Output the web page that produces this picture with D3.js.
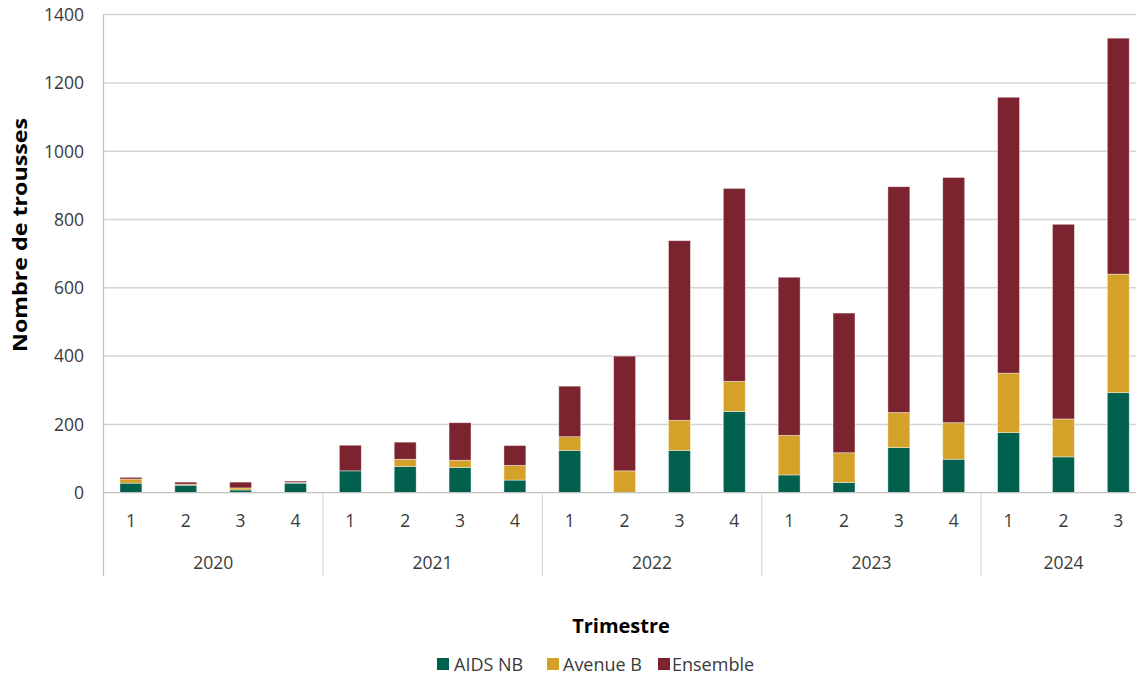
<!DOCTYPE html>
<html>
<head>
<meta charset="utf-8">
<script src="https://cdn.jsdelivr.net/npm/d3@7"></script>
<style>
  html, body { margin: 0; padding: 0; background: #fff; }
  svg { display: block; font-family: "Open Sans", "Liberation Sans", sans-serif; }
</style>
</head>
<body>
<svg id="chart" width="1136" height="675"></svg>
<script>
// Trousses distribuées par trimestre, 2020 T1 à 2024 T3
const years = ["2020", "2021", "2022", "2023", "2024"];
const quarterCounts = [4, 4, 4, 4, 3];
const quarterLabels = ["1","2","3","4", "1","2","3","4", "1","2","3","4", "1","2","3","4", "1","2","3"];
const aidsNB   = [28, 22, 8, 28,   64, 77, 74, 37,   124, 0, 124, 238,   52, 30, 132, 98,   176, 105, 293];
const avenueB  = [12, 3, 6, 2,     0, 21, 21, 43,    40, 64, 88, 88,     116, 87, 103, 107, 174, 111, 347];
const ensemble = [5, 6, 17, 4,     75, 50, 110, 58,  148, 336, 526, 565, 463, 409, 661, 718, 808, 570, 691];
const seriesNames = ["AIDS NB", "Avenue B", "Ensemble"];
const seriesColors = ["#02604f", "#d4a229", "#7b2430"];
const yTicks = [0, 200, 400, 600, 800, 1000, 1200, 1400];

const svg = d3.select("#chart");
const plotLeft = 103.5, plotRight = 1145.7, plotTop = 14.6, plotBottom = 492.7;
const axisBottom = 576;

// category keys: year-quarter
const keys = [];
years.forEach((yr, i) => { for (let q = 0; q < quarterCounts[i]; q++) keys.push(yr + "-" + (q + 1)); });

const rows = keys.map((k, i) => ({ key: k, "AIDS NB": aidsNB[i], "Avenue B": avenueB[i], "Ensemble": ensemble[i] }));
const stacked = d3.stack().keys(seriesNames)(rows);

const x = d3.scaleBand().domain(keys).range([plotLeft, plotRight]).paddingInner(0.6).paddingOuter(0.3);
const slot = d3.scaleBand().domain(keys).range([plotLeft, plotRight]).padding(0);
const y = d3.scaleLinear().domain([0, 1400]).range([plotBottom, plotTop]);

// horizontal gridlines
svg.append("g").selectAll("line").data(yTicks.filter(d => d > 0)).join("line")
  .attr("x1", plotLeft).attr("x2", 1136)
  .attr("y1", d => y(d)).attr("y2", d => y(d))
  .attr("stroke", "#d4d4d4").attr("stroke-width", 1.5);

// y tick labels
svg.append("g").selectAll("text").data(yTicks).join("text")
  .attr("x", 84).attr("y", d => y(d)).attr("dy", "0.36em")
  .attr("text-anchor", "end").attr("font-size", 17.5).attr("fill", "#3a3a3a")
  .text(d => d);

// stacked bars
svg.append("g").selectAll("g").data(stacked).join("g")
  .attr("fill", (d, i) => seriesColors[i])
  .selectAll("rect").data(d => d).join("rect")
  .attr("x", d => x(d.data.key))
  .attr("width", x.bandwidth())
  .attr("y", d => y(d[1]))
  .attr("height", d => y(d[0]) - y(d[1]))
  .attr("stroke", "rgba(255,255,255,0.5)").attr("stroke-width", 0.8);

// axis lines
const axisG = svg.append("g").attr("stroke", "#bfbfbf").attr("stroke-width", 1.2);
axisG.append("line").attr("x1", plotLeft).attr("x2", 1136).attr("y1", plotBottom).attr("y2", plotBottom);
axisG.append("line").attr("x1", plotLeft).attr("x2", plotLeft).attr("y1", plotTop).attr("y2", axisBottom);

// year group bounds and separators
let start = 0;
const groupBounds = years.map((yr, i) => {
  const a = slot(keys[start]);
  const lastKey = keys[start + quarterCounts[i] - 1];
  const b = slot(lastKey) + slot.bandwidth();
  start += quarterCounts[i];
  return { yr, a, b };
});
axisG.selectAll("line.sep").data(groupBounds.slice(0, -1)).join("line")
  .attr("class", "sep")
  .attr("x1", d => d.b).attr("x2", d => d.b)
  .attr("y1", plotBottom).attr("y2", axisBottom)
  .attr("stroke", "#d9d9d9");

// quarter labels
svg.append("g").selectAll("text").data(keys).join("text")
  .attr("x", d => slot(d) + slot.bandwidth() / 2)
  .attr("y", 527)
  .attr("text-anchor", "middle").attr("font-size", 17.5).attr("fill", "#3a3a3a")
  .text((d, i) => quarterLabels[i]);

// year labels
svg.append("g").selectAll("text").data(groupBounds).join("text")
  .attr("x", d => (d.a + d.b) / 2)
  .attr("y", 569)
  .attr("text-anchor", "middle").attr("font-size", 17.5).attr("fill", "#3a3a3a")
  .text(d => d.yr);

// axis titles
svg.append("text")
  .attr("transform", "translate(27,235) rotate(-90)")
  .attr("text-anchor", "middle").attr("font-size", 20).attr("font-weight", "bold")
  .attr("fill", "#000")
  .attr("textLength", 234).attr("lengthAdjust", "spacingAndGlyphs")
  .text("Nombre de trousses");

svg.append("text")
  .attr("x", 621).attr("y", 633)
  .attr("text-anchor", "middle").attr("font-size", 20).attr("font-weight", "bold")
  .attr("fill", "#000")
  .text("Trimestre");

// legend
const legendItems = [
  { name: seriesNames[0], color: seriesColors[0], sx: 437, tx: 454 },
  { name: seriesNames[1], color: seriesColors[1], sx: 547, tx: 563 },
  { name: seriesNames[2], color: seriesColors[2], sx: 658, tx: 672 }
];
const lg = svg.append("g");
lg.selectAll("rect").data(legendItems).join("rect")
  .attr("x", d => d.sx).attr("y", 658).attr("width", 12).attr("height", 12)
  .attr("fill", d => d.color);
lg.selectAll("text").data(legendItems).join("text")
  .attr("x", d => d.tx).attr("y", 670.5)
  .attr("font-size", 18).attr("fill", "#3a3a3a")
  .text(d => d.name);
</script>
</body>
</html>
